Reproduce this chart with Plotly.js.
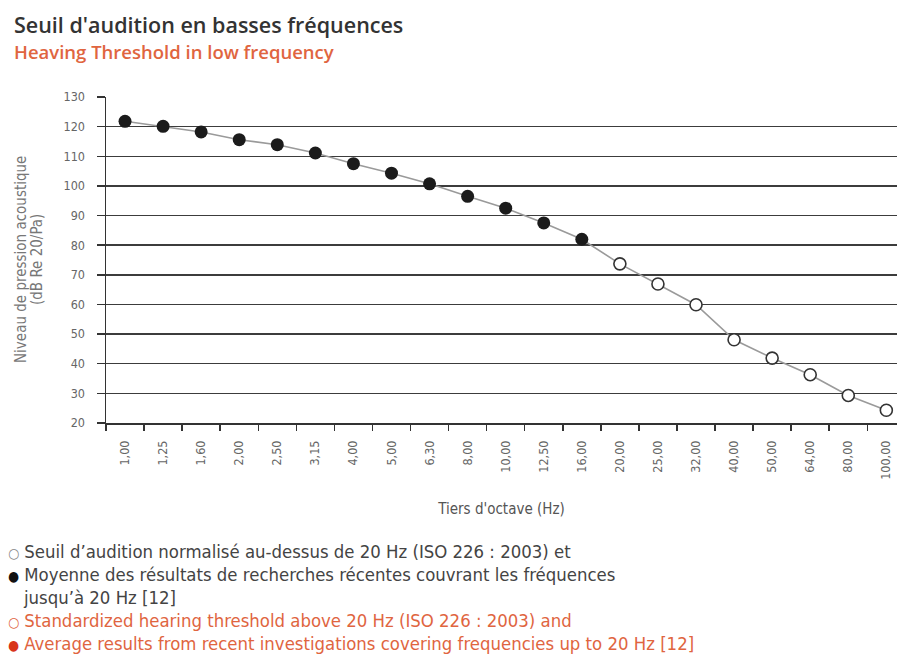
<!DOCTYPE html>
<html>
<head>
<meta charset="utf-8">
<script src="https://cdn.plot.ly/plotly-3.0.1.min.js"></script>
<style>html,body{margin:0;padding:0;background:#fff;}#chart{width:897px;height:658px;}</style>
</head>
<body>
<div id="chart"></div>
<script>
// Third-octave frequencies (Hz) - tick labels
const measuredFreqs = ['1,00','1,25','1,60','2,00','2,50','3,15','4,00','5,00','6,30','8,00','10,00','12,50','16,00'];
const isoFreqs = ['20,00','25,00','32,00','40,00','50,00','64,00','80,00','100,00'];
// Average of recent research results (filled markers), dB
const measuredValues = [121.8, 120.1, 118.2, 115.6, 113.9, 111.1, 107.5, 104.3, 100.7, 96.5, 92.5, 87.5, 82.0];
// Standardized hearing threshold ISO 226:2003 (open markers), dB
const isoValues = [73.7, 66.9, 59.9, 48.1, 41.9, 36.3, 29.3, 24.3];

const allFreqs = measuredFreqs.concat(isoFreqs);
const allValues = measuredValues.concat(isoValues);

const FONT = '"Liberation Sans Narrow", "DejaVu Sans Condensed", "Liberation Sans", sans-serif';
const TITLE_FONT = '"Open Sans", "Noto Sans", sans-serif';

const traces = [
  {x: allFreqs, y: allValues, type: 'scatter', mode: 'lines',
   line: {color: '#9a9a9a', width: 1.6}, hoverinfo: 'skip', showlegend: false},
  {x: measuredFreqs, y: measuredValues, type: 'scatter', mode: 'markers',
   marker: {size: 13, color: '#1b1b1b', line: {color: '#1b1b1b', width: 0}}, showlegend: false},
  {x: isoFreqs, y: isoValues, type: 'scatter', mode: 'markers',
   marker: {size: 12, color: '#ffffff', line: {color: '#333333', width: 1.6}}, showlegend: false}
];

// helpers for pixel -> paper conversion (plot area l=106, t=97, w=791, h=326)
const L = 106, T = 97, W = 791, H = 326;
const px = v => (v - L) / W;
const py = v => (T + H - v) / H;

const grey = '#444444';
const orange = '#e0653f';

const legendFont = {family: FONT, size: 18.4, color: grey};
const legendFontO = {family: FONT, size: 18.4, color: orange};
const B = 'font-size:14px;';

function note(text, x, y, font, extra) {
  return Object.assign({text: text, x: px(x), y: py(y), xref: 'paper', yref: 'paper',
    xanchor: 'left', yanchor: 'middle', showarrow: false, font: font}, extra || {});
}

const yTitleFont = {family: FONT, size: 15, color: '#777'};

const annotations = [
  note("Seuil d'audition en basses fréquences", 12, 25,
       {family: TITLE_FONT, size: 21.5, color: '#333333', weight: 600}),
  note('Heaving Threshold in low frequency', 12, 52,
       {family: TITLE_FONT, size: 18.5, color: orange, weight: 600}),
  note('<span style="' + B + 'color:#888">○</span> Seuil d\u2019audition normalisé au-dessus de 20 Hz (ISO 226 : 2003) et', 6, 551, legendFont),
  note('<span style="' + B + 'color:#111">●</span> Moyenne des résultats de recherches récentes couvrant les fréquences', 6, 574, legendFont),
  note('jusqu\u2019à 20 Hz [12]', 21, 597, legendFont),
  note('<span style="' + B + '">○</span> Standardized hearing threshold above 20 Hz (ISO 226 : 2003) and', 6, 620, legendFontO),
  note('<span style="' + B + 'color:#d8341c">●</span> Average results from recent investigations covering frequencies up to 20 Hz [12]', 6, 643, legendFontO),
  // y-axis title (two lines)
  {text: 'Niveau de pression acoustique', x: px(21), y: py(260), xref: 'paper', yref: 'paper',
   xanchor: 'center', yanchor: 'middle', textangle: -90, showarrow: false, font: yTitleFont},
  {text: '(dB Re 20/Pa)', x: px(37), y: py(260), xref: 'paper', yref: 'paper',
   xanchor: 'center', yanchor: 'middle', textangle: -90, showarrow: false, font: yTitleFont}
];

const layout = {
  width: 897, height: 658,
  margin: {l: L, r: 897 - L - W, t: T, b: 658 - T - H, pad: 0},
  paper_bgcolor: '#ffffff', plot_bgcolor: '#ffffff',
  showlegend: false,
  font: {family: FONT, color: '#666666'},
  xaxis: {
    type: 'category', categoryorder: 'array', categoryarray: allFreqs,
    range: [-0.5, 20.28], tickson: 'boundaries',
    ticks: 'outside', ticklen: 6, tickwidth: 1.5, tickcolor: '#333',
    showline: true, linecolor: '#333', linewidth: 1.5,
    showgrid: false, zeroline: false,
    tickangle: -90, ticklabelstandoff: 11,
    tickfont: {family: FONT, size: 12.5, color: '#666'},
    title: {text: "Tiers d'octave (Hz)", font: {family: FONT, size: 15, color: '#555'}, standoff: 24},
    fixedrange: true
  },
  yaxis: {
    range: [20, 130], dtick: 10, tick0: 20,
    ticks: 'outside', ticklen: 8, tickwidth: 1.5, tickcolor: '#333',
    showline: true, linecolor: '#333', linewidth: 1.5,
    showgrid: true, gridcolor: '#3c3c3c', gridwidth: 1.5, zeroline: false,
    ticklabelstandoff: 9,
    tickfont: {family: FONT, size: 12.5, color: '#666'},
    fixedrange: true
  },
  annotations: annotations
};

Plotly.newPlot('chart', traces, layout, {displayModeBar: false, staticPlot: true});
</script>
</body>
</html>
